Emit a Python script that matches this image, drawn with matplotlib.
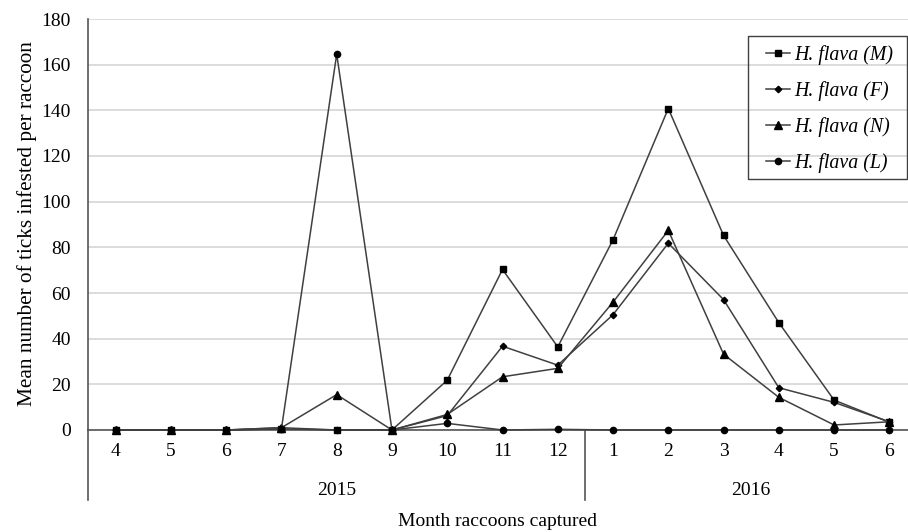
import matplotlib.pyplot as plt
from matplotlib.patches import Rectangle

plt.rcParams['font.family'] = ['Liberation Serif', 'DejaVu Serif']

months = ['4', '5', '6', '7', '8', '9', '10', '11', '12', '1', '2', '3', '4', '5', '6']
years = ['2015', '2016']

male = [0, 0, 0, 0.5, 0, 0, 21.8, 70.3, 36.4, 83.3, 140.8, 85.2, 47, 13.1, 3.4]
female = [0, 0, 0, 1, 0, 0, 6.3, 36.7, 28.4, 50.5, 81.8, 57.1, 18.5, 12.1, 3.6]
nymph = [0, 0, 0, 1, 15.5, 0, 6.8, 23.3, 27, 56, 87.4, 33.2, 14.3, 2.2, 3.6]
larva = [0, 0, 0, 0.5, 164.6, 0, 2.9, 0, 0.3, 0, 0, 0, 0, 0, 0]

W, H = 908, 532
fig = plt.figure(figsize=(W / 100, H / 100), dpi=100)
# right edge of the axes runs past the figure edge (the reference is cropped)
ax = fig.add_axes([88 / W, (H - 430) / H, (917 - 88) / W, 411 / H])

x = list(range(len(months)))
line_col = '#404040'
series = [
    (male, 's', 5.0, 'H. flava (M)'),
    (female, 'D', 3.3, 'H. flava (F)'),
    (nymph, '^', 5.2, 'H. flava (N)'),
    (larva, 'o', 4.5, 'H. flava (L)'),
]
for vals, mk, ms, lab in series:
    ax.plot(x, vals, color=line_col, lw=1.1, marker=mk, ms=ms,
            mfc='black', mec='black', label=lab, clip_on=False, zorder=3)

ax.set_xlim(-0.5, 14.5)
ax.set_ylim(0, 180)
ax.set_yticks(range(0, 181, 20))
ax.yaxis.grid(True, color='#d9d9d9', lw=1.3)
ax.set_axisbelow(True)
ax.set_xticks(x)
ax.set_xticklabels(months)
ax.tick_params(axis='both', length=0, labelsize=14, colors='black')
ax.tick_params(axis='x', pad=9)
ax.tick_params(axis='y', pad=12.5)

for s in ['top', 'right']:
    ax.spines[s].set_visible(False)
for s in ['left', 'bottom']:
    ax.spines[s].set_color('#555555')
    ax.spines[s].set_linewidth(1.2)

# year separators below the axis
trans = ax.get_xaxis_transform()
for xv in [-0.5, 8.5]:
    ax.plot([xv, xv], [0, -0.17], transform=trans, color='#555555', lw=1.2,
            clip_on=False)
ax.text(4, -0.148, years[0], transform=trans, ha='center', va='center',
        fontsize=14)
ax.text(11.5, -0.148, years[1], transform=trans, ha='center', va='center',
        fontsize=14)

fig.text(497 / W, (H - 522) / H, 'Month raccoons captured', ha='center',
         va='center', fontsize=14)
fig.text(27 / W, (H - 224) / H, 'Mean number of ticks infested per raccoon',
         ha='center', va='center', rotation=90, fontsize=15.3)

leg = ax.legend(loc='upper left', bbox_to_anchor=(766 / W, (H - 45) / H),
                bbox_transform=fig.transFigure, prop={'style': 'italic', 'size': 14.3},
                frameon=False, handlelength=1.22, handletextpad=0.2,
                labelspacing=0.815, borderpad=0, borderaxespad=0)
fig.patches.append(Rectangle((748 / W, (H - 179) / H), (907 - 748) / W, 143 / H,
                             transform=fig.transFigure, fill=False,
                             edgecolor='#404040', lw=1.0))

fig.savefig('out.png', dpi=100)
